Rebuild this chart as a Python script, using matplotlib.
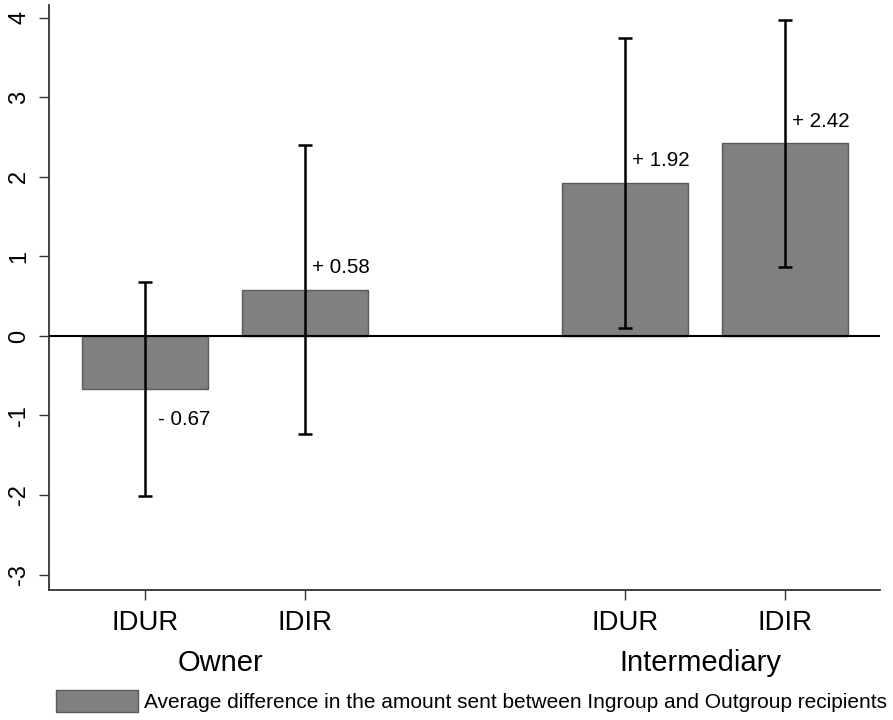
import matplotlib
matplotlib.use("Agg")
import matplotlib.pyplot as plt
from matplotlib.patches import Patch

plt.rcParams['font.family'] = ['Liberation Sans', 'DejaVu Sans']

# Data
positions = [0, 1, 3, 4]
tick_labels = ["IDUR", "IDIR", "IDUR", "IDIR"]
groups = ["Owner", "Intermediary"]
values = [-0.67, 0.58, 1.92, 2.42]
ci_low = [-2.01, -1.23, 0.10, 0.87]
ci_high = [0.68, 2.40, 3.74, 3.97]
value_labels = ["- 0.67", "+ 0.58", "+ 1.92", "+ 2.42"]
yticks = [-3, -2, -1, 0, 1, 2, 3, 4]
legend_label = "Average difference in the amount sent between Ingroup and Outgroup recipients"

fig = plt.figure(figsize=(8.93, 7.20), dpi=100)
ax = fig.add_axes([0.055, 0.181, 0.930, 0.812])

ax.bar(positions, values, width=0.79, color="#808080", edgecolor="#5a5a5a", linewidth=1.0, zorder=2)
yerr_low = [v - l for v, l in zip(values, ci_low)]
yerr_high = [h - v for v, h in zip(values, ci_high)]
ax.errorbar(positions, values, yerr=[yerr_low, yerr_high], fmt='none', ecolor='black',
            elinewidth=1.8, capsize=5, capthick=1.8, zorder=4)
ax.axhline(0, color='black', linewidth=1.5, zorder=3)

for x, v, lab in zip(positions, values, value_labels):
    if v >= 0:
        ax.text(x + 0.045, v + 0.28, lab, ha='left', va='center', fontsize=14.8, color='black', zorder=5)
    else:
        ax.text(x + 0.08, v - 0.38, lab, ha='left', va='center', fontsize=14.8, color='black', zorder=5)

ax.set_xlim(-0.6, 4.59)
ax.set_ylim(-3.19, 4.16)
ax.set_yticks(yticks)
ax.set_yticklabels([str(t) for t in yticks], rotation=90, va='center', fontsize=17)
ax.set_xticks(positions)
ax.set_xticklabels(tick_labels, fontsize=19.8)
ax.tick_params(axis='x', length=7.5, width=1, pad=7, colors='#333333', labelcolor='black')
ax.tick_params(axis='y', length=7.5, width=1, pad=6, colors='#333333', labelcolor='black')

for s in ['top', 'right']:
    ax.spines[s].set_visible(False)
for s in ['left', 'bottom']:
    ax.spines[s].set_linewidth(1.3)
    ax.spines[s].set_color('#333333')

# Group labels
ax.text(0.47, -0.125, groups[0], transform=ax.get_xaxis_transform(), ha='center', va='center', fontsize=21)
ax.text(3.47, -0.125, groups[1], transform=ax.get_xaxis_transform(), ha='center', va='center', fontsize=21)

# Legend
leg = fig.legend(handles=[Patch(facecolor="#808080", edgecolor="#5a5a5a", label=legend_label)],
                 loc='lower left', bbox_to_anchor=(0.049, -0.006), frameon=False, fontsize=15,
                 handlelength=3.9, handleheight=1.25, handletextpad=0.3, borderaxespad=0.2)

fig.savefig("out.png", dpi=100)
